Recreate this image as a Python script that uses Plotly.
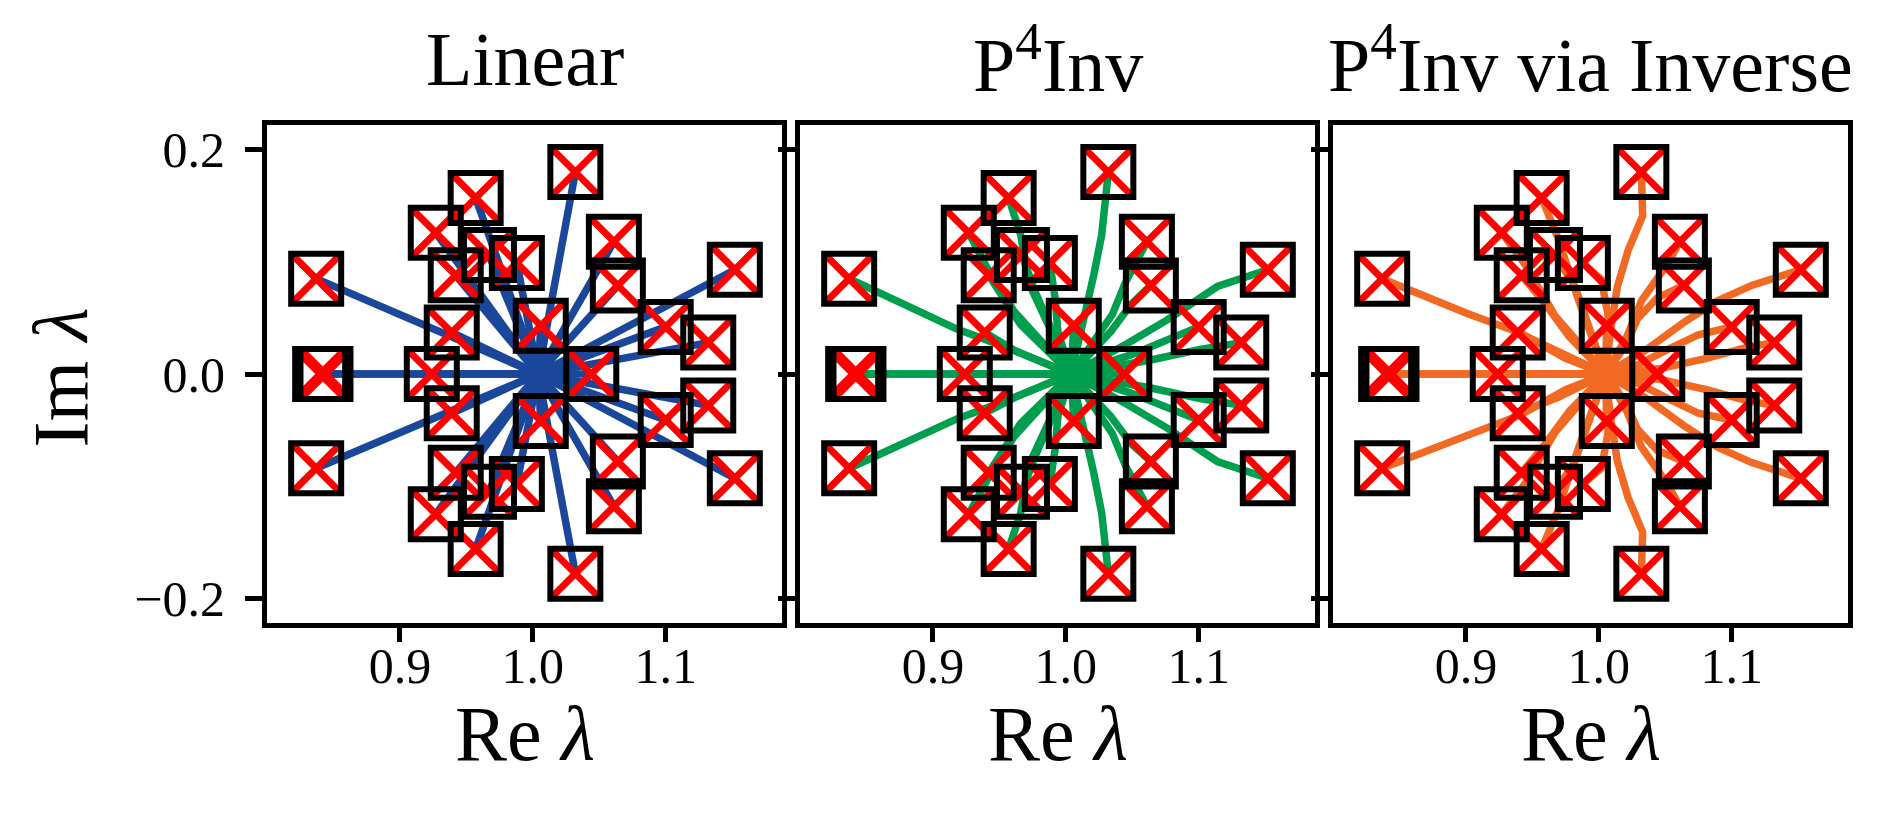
import plotly.graph_objects as go

# eigenvalues (upper half-plane)
eig_re = [0.837, 0.927, 0.957, 0.942, 0.967, 0.988, 1.032, 1.061, 1.064, 1.152, 1.100, 1.132, 1.006, 0.939]
eig_im_up = [0.085, 0.126, 0.157, 0.088, 0.106, 0.099, 0.180, 0.118, 0.079, 0.093, 0.042, 0.028, 0.043, 0.037]
eig_im_low = [-0.084, -0.125, -0.156, -0.088, -0.105, -0.098, -0.178, -0.118, -0.078, -0.093, -0.041, -0.028, -0.042, -0.035]
# eigenvalues on the real axis
eig_real = [0.840, 0.844, 0.924, 1.044]

# starting point of every trajectory, per panel
start_re = [1.004, 1.004, 1.005]

# waypoints of the P4Inv trajectories (target -> start), upper half
p4_mid_re = [
    [0.883, 0.918, 0.956], [0.941, 0.961], [0.966, 0.973], [0.953, 0.966],
    [0.977], [0.992, 0.994], [1.027, 1.021, 1.015], [1.045, 1.035],
    [1.049, 1.034], [1.114, 1.076, 1.046], [1.074, 1.049], [1.101, 1.064],
    [], [0.963],
]
p4_mid_im = [
    [0.059, 0.040, 0.0235], [0.094, 0.056], [0.124, 0.079], [0.067, 0.044],
    [0.073], [0.067, 0.038], [0.124, 0.088, 0.056], [0.082, 0.053],
    [0.062, 0.038], [0.078, 0.048, 0.027], [0.029, 0.017], [0.022, 0.0125],
    [], [0.020],
]

# waypoints of the P4Inv-via-inverse trajectories (target -> start), upper half
inv_mid_re = [
    [0.901, 0.941, 0.975], [0.945, 0.967], [0.969, 0.985], [0.958, 0.978],
    [0.982], [1.002, 1.007], [1.033, 1.022, 1.014, 1.009], [1.051, 1.032, 1.021],
    [1.044, 1.029, 1.021], [1.115, 1.089, 1.064, 1.035], [1.075, 1.052, 1.029],
    [1.112, 1.081, 1.047], [], [0.969],
]
inv_mid_im = [
    [0.054, 0.0365, 0.014], [0.097, 0.052], [0.122, 0.065], [0.065, 0.033],
    [0.078], [0.084, 0.052], [0.141, 0.110, 0.078, 0.040], [0.097, 0.065, 0.033],
    [0.068, 0.049, 0.027], [0.079, 0.065, 0.046, 0.021], [0.035, 0.022, 0.008],
    [0.024, 0.014, 0.005], [], [0.021],
]
no_mid = [[] for _ in eig_re]

titles = ["Linear", "P<sup>4</sup>Inv", "P<sup>4</sup>Inv via Inverse"]
colors = ["#1b479b", "#009e4f", "#f26923"]
mids = [(no_mid, no_mid), (p4_mid_re, p4_mid_im), (inv_mid_re, inv_mid_im)]

FONT = "Liberation Serif"


def trajectories(c, mre, mim):
    xs, ys = [], []
    for k in range(len(eig_re)):
        # upper eigenvalue and its conjugate partner
        xs += [eig_re[k]] + mre[k] + [c, None]
        ys += [eig_im_up[k]] + mim[k] + [0.0, None]
        xs += [eig_re[k]] + mre[k] + [c, None]
        ys += [eig_im_low[k]] + [-v for v in mim[k]] + [0.0, None]
    for r in eig_real:
        xs += [r, c, None]
        ys += [0.0, 0.0, None]
    return xs, ys


all_re = eig_re + eig_re + eig_real
all_im = eig_im_up + eig_im_low + [0.0] * len(eig_real)

fig = go.Figure()
for i in range(3):
    ax = "" if i == 0 else str(i + 1)
    tx, ty = trajectories(start_re[i], *mids[i])
    fig.add_trace(go.Scatter(x=tx, y=ty, mode="lines", xaxis="x" + ax, yaxis="y" + ax,
                             line=dict(color=colors[i], width=7.5), hoverinfo="skip"))
    fig.add_trace(go.Scatter(x=all_re, y=all_im, mode="markers", xaxis="x" + ax, yaxis="y" + ax,
                             marker=dict(symbol="x-thin", size=50, color="red",
                                         line=dict(color="red", width=7))))
    fig.add_trace(go.Scatter(x=all_re, y=all_im, mode="markers", xaxis="x" + ax, yaxis="y" + ax,
                             marker=dict(symbol="square-open", size=50, color="black",
                                         line=dict(color="black", width=6))))

W = 1581.0
domains = [[0, 515 / W], [533 / W, 1048 / W], [1066 / W, 1.0]]

tick_font = dict(family=FONT, size=50, color="black")
layout = dict(
    width=1893, height=817,
    margin=dict(l=259, r=53, t=117, b=202, pad=0),
    paper_bgcolor="white", plot_bgcolor="white",
    showlegend=False,
)
for i in range(3):
    ax = "" if i == 0 else str(i + 1)
    layout["xaxis" + ax] = dict(
        domain=domains[i], range=[0.8, 1.1875], anchor="y" + ax,
        tickvals=[0.9, 1.0, 1.1], ticktext=["0.9", "1.0", "1.1"],
        showline=True, mirror=True, linecolor="black", linewidth=5,
        ticks="outside", ticklen=14, tickwidth=4.5, tickcolor="black",
        showgrid=False, zeroline=False, tickfont=tick_font, ticklabelstandoff=-19,
    )
    layout["yaxis" + ax] = dict(
        domain=[0, 1], range=[-0.222, 0.222], anchor="x" + ax,
        tickvals=[-0.2, 0.0, 0.2], ticktext=["\u22120.2", "0.0", "0.2"],
        showticklabels=(i == 0),
        showline=True, mirror=True, linecolor="black", linewidth=5,
        ticks="outside", ticklen=17, tickwidth=4.5, tickcolor="black",
        showgrid=False, zeroline=False, tickfont=tick_font, ticklabelstandoff=10,
    )

annotations = []
for i in range(3):
    cx = (domains[i][0] + domains[i][1]) / 2
    annotations.append(dict(text=titles[i], x=cx, y=1.132, xref="paper", yref="paper",
                            xanchor="center", yanchor="middle", showarrow=False,
                            font=dict(family=FONT, size=76, color="black")))
    annotations.append(dict(text="Re <i>\u03bb</i>", x=cx, y=-0.221, xref="paper", yref="paper",
                            xanchor="center", yanchor="middle", showarrow=False,
                            font=dict(family=FONT, size=78, color="black")))
annotations.append(dict(text="Im <i>\u03bb</i>", x=-0.13, y=0.494, xref="paper", yref="paper",
                        xanchor="center", yanchor="middle", showarrow=False, textangle=-90,
                        font=dict(family=FONT, size=78, color="black")))
layout["annotations"] = annotations

fig.update_layout(**layout)
fig.write_html("out.html")
